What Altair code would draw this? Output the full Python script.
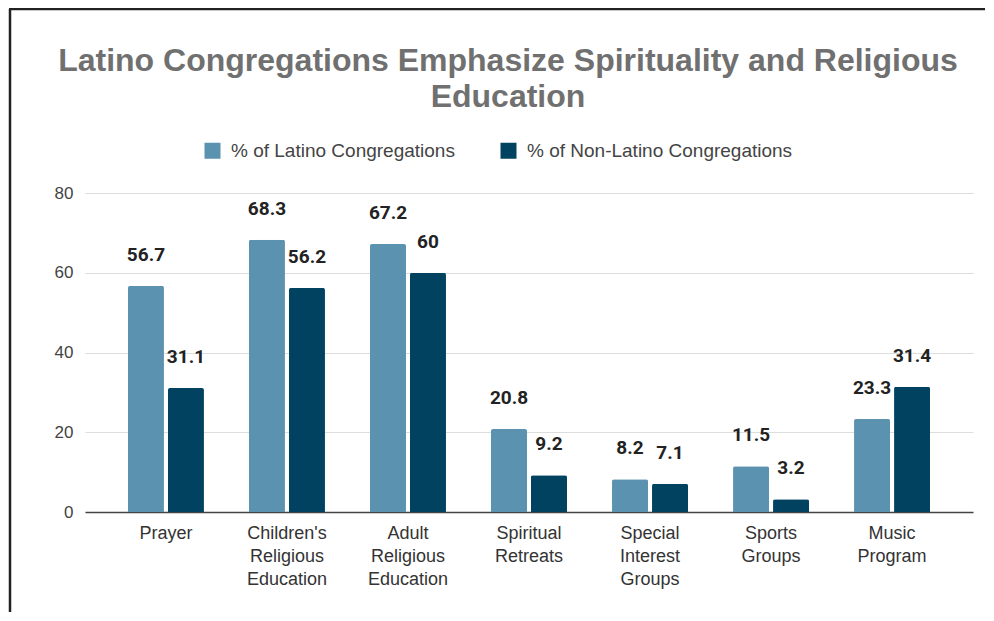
import altair as alt
import pandas as pd

categories = ["Prayer", "Children's\nReligious\nEducation", "Adult\nReligious\nEducation",
              "Spiritual\nRetreats", "Special\nInterest\nGroups", "Sports\nGroups", "Music\nProgram"]
series = ["% of Latino Congregations", "% of Non-Latino Congregations"]
latino = [56.7, 68.3, 67.2, 20.8, 8.2, 11.5, 23.3]
non_latino = [31.1, 56.2, 60, 9.2, 7.1, 3.2, 31.4]
colors = ["#5a92b0", "#00425f"]
y_ticks = [0, 20, 40, 60, 80]

rows = []
for c, a, b in zip(categories, latino, non_latino):
    rows.append({"cat": c, "series": series[0], "value": a})
    rows.append({"cat": c, "series": series[1], "value": b})
df = pd.DataFrame(rows)

FONT = "Liberation Sans"

x_enc = alt.X("cat:N", sort=categories, title=None,
              scale=alt.Scale(paddingInner=0.372, paddingOuter=0.355),
              axis=alt.Axis(labelExpr="split(datum.label, '\\n')", labelAngle=0,
                            labelFont=FONT, labelFontSize=18, labelColor="#333333",
                            labelLineHeight=23, labelPadding=12, labelBaseline="top",
                            ticks=False, domain=True, domainColor="#444444", domainWidth=1.5,
                            grid=False))
xo_enc = alt.XOffset("series:N", sort=series, scale=alt.Scale(paddingInner=0.1))
y_enc = alt.Y("value:Q", title=None,
              scale=alt.Scale(domain=[0, 80], nice=False),
              axis=alt.Axis(values=y_ticks, labelFont=FONT, labelFontSize=17,
                            labelColor="#444444", labelPadding=12, ticks=False,
                            domain=False, grid=True, gridColor="#dddddd", gridWidth=1))

bars = alt.Chart(df).mark_bar(cornerRadiusTopLeft=2, cornerRadiusTopRight=2).encode(
    x=x_enc, xOffset=xo_enc, y=y_enc,
    color=alt.Color("series:N", sort=series, title=None,
                    scale=alt.Scale(domain=series, range=colors),
                    legend=alt.Legend(orient="none", legendX=118, legendY=-52,
                                      direction="horizontal", symbolType="square",
                                      symbolSize=256, symbolStrokeWidth=0,
                                      labelFont=FONT, labelFontSize=19,
                                      labelColor="#444444", labelOffset=9,
                                      columnPadding=44, labelLimit=400)),
)

text = alt.Chart(df).mark_text(font="Roboto", fontWeight="bold", fontSize=19,
                               color="#222222", dy=-31, baseline="middle").encode(
    x=x_enc, xOffset=xo_enc, y=y_enc,
    text=alt.Text("value:Q", format=".1~f"),
)

one = alt.Data(values=[{"k": 1}])
left_border = alt.Chart(one).mark_rule(color="#222222", strokeWidth=2.5).encode(
    x=alt.value(-75), y=alt.value(-184), y2=alt.value(430))
top_border = alt.Chart(one).mark_rule(color="#222222", strokeWidth=2.5).encode(
    x=alt.value(-76), x2=alt.value(920), y=alt.value(-184))

chart = alt.layer(bars, text, left_border, top_border).properties(
    width=888, height=319,
    autosize=alt.AutoSizeParams(type="none"),
    padding={"left": 77, "top": 185, "right": 12, "bottom": 100},
    title=alt.Title(["Latino Congregations Emphasize Spirituality and Religious", "Education"],
                    font=FONT, fontSize=32, fontWeight="bold", color="#707070",
                    lineHeight=36, anchor="middle", dx=-21, offset=-106),
).configure_view(stroke=None)

chart.save("out.html", embed_options={"renderer": "svg", "actions": False})
